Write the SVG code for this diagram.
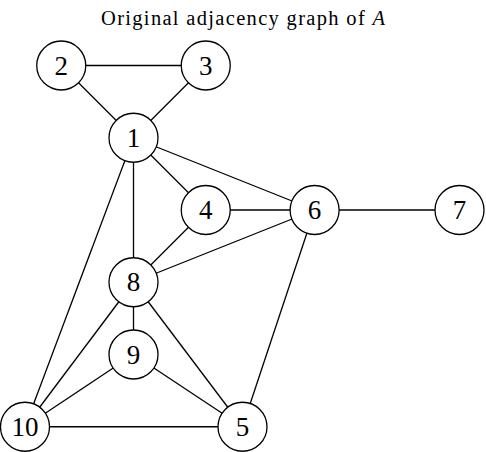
<svg xmlns="http://www.w3.org/2000/svg" width="486" height="452" viewBox="0 0 486 452">
<style>
.edge{stroke:#000;stroke-width:1.3;fill:none}
.node circle{fill:#fff;stroke:#000;stroke-width:1.3}
.node text{font-family:"Liberation Serif","DejaVu Serif",serif;font-size:27px;text-anchor:middle;dominant-baseline:central;fill:#000}
.title{font-family:"Liberation Serif","DejaVu Serif",serif;font-size:20.5px;fill:#000}
</style>
<rect width="486" height="452" fill="#fff"/>
<text class="title" x="101" y="25" textLength="284" lengthAdjust="spacing">Original adjacency graph of <tspan font-style="italic">A</tspan></text>
<g id="edges">
<line class="edge" x1="61.25" y1="65.5" x2="205.75" y2="65.5"/>
<line class="edge" x1="61.25" y1="65.5" x2="133.5" y2="137.75"/>
<line class="edge" x1="205.75" y1="65.5" x2="133.5" y2="137.75"/>
<line class="edge" x1="133.5" y1="137.75" x2="205.75" y2="210"/>
<line class="edge" x1="133.5" y1="137.75" x2="314.6" y2="210"/>
<line class="edge" x1="133.5" y1="137.75" x2="133.5" y2="282.25"/>
<line class="edge" x1="133.5" y1="137.75" x2="25" y2="426.75"/>
<line class="edge" x1="205.75" y1="210" x2="314.6" y2="210"/>
<line class="edge" x1="205.75" y1="210" x2="133.5" y2="282.25"/>
<line class="edge" x1="314.6" y1="210" x2="459.5" y2="210"/>
<line class="edge" x1="314.6" y1="210" x2="133.5" y2="282.25"/>
<line class="edge" x1="314.6" y1="210" x2="242.5" y2="426.75"/>
<line class="edge" x1="133.5" y1="282.25" x2="133.5" y2="354.5"/>
<line class="edge" x1="133.5" y1="282.25" x2="25" y2="426.75"/>
<line class="edge" x1="133.5" y1="282.25" x2="242.5" y2="426.75"/>
<line class="edge" x1="133.5" y1="354.5" x2="25" y2="426.75"/>
<line class="edge" x1="133.5" y1="354.5" x2="242.5" y2="426.75"/>
<line class="edge" x1="25" y1="426.75" x2="242.5" y2="426.75"/>
</g>
<g id="node1" class="node"><circle cx="133.5" cy="137.75" r="24.5"/><text x="133.5" y="137.75">1</text></g>
<g id="node2" class="node"><circle cx="61.25" cy="65.5" r="24.5"/><text x="61.25" y="65.5">2</text></g>
<g id="node3" class="node"><circle cx="205.75" cy="65.5" r="24.5"/><text x="205.75" y="65.5">3</text></g>
<g id="node4" class="node"><circle cx="205.75" cy="210" r="24.5"/><text x="205.75" y="210">4</text></g>
<g id="node5" class="node"><circle cx="242.5" cy="426.75" r="24.5"/><text x="242.5" y="426.75">5</text></g>
<g id="node6" class="node"><circle cx="314.6" cy="210" r="24.5"/><text x="314.6" y="210">6</text></g>
<g id="node7" class="node"><circle cx="459.5" cy="210" r="24.5"/><text x="459.5" y="210">7</text></g>
<g id="node8" class="node"><circle cx="133.5" cy="282.25" r="24.5"/><text x="133.5" y="282.25">8</text></g>
<g id="node9" class="node"><circle cx="133.5" cy="354.5" r="24.5"/><text x="133.5" y="354.5">9</text></g>
<g id="node10" class="node"><circle cx="25" cy="426.75" r="24.5"/><text x="25" y="426.75">10</text></g>
</svg>
